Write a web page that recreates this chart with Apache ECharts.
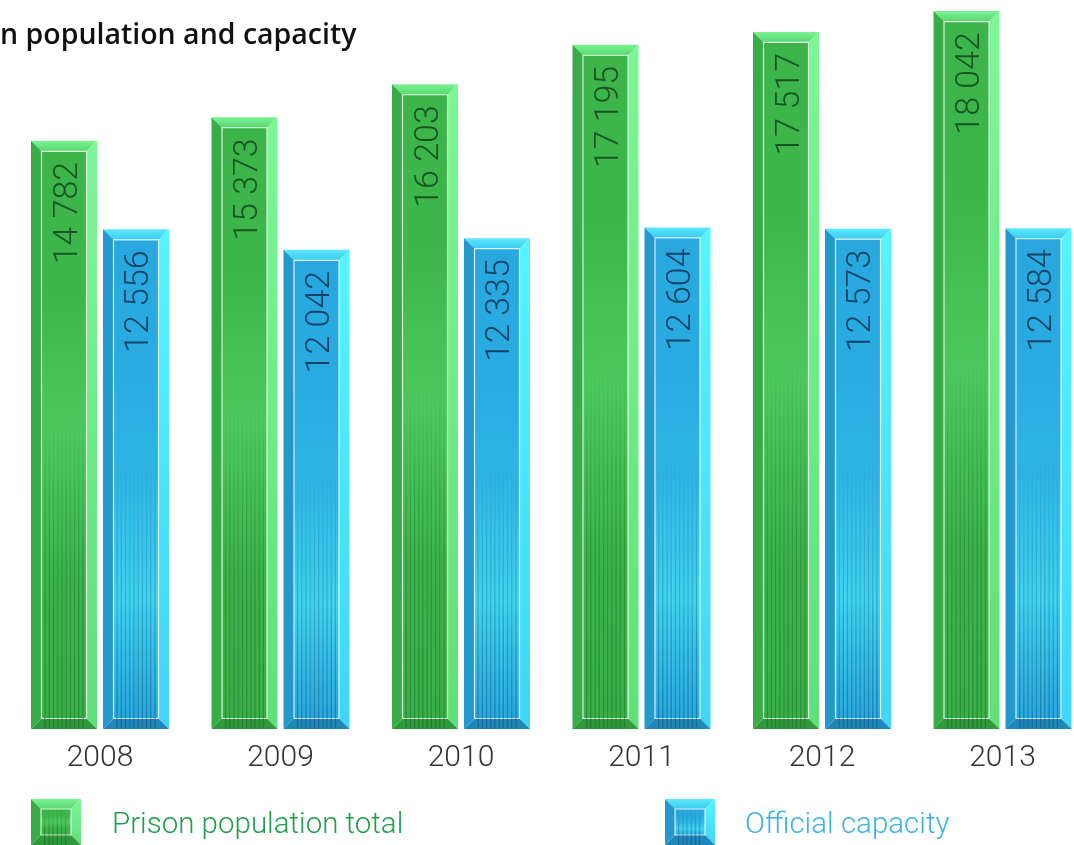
<!DOCTYPE html>
<html><head><meta charset="utf-8">
<script src="https://cdn.jsdelivr.net/npm/echarts@6/dist/echarts.min.js"></script>
<style>html,body{margin:0;padding:0;background:#fff;overflow:hidden}#c{width:1074px;height:845px}</style>
</head><body><div id="c"></div>
<script>
const titleText = 'n population and capacity';
const years = ['2008', '2009', '2010', '2011', '2012', '2013'];
const seriesNames = ['Prison population total', 'Official capacity'];
const prisonPopulation = [14782, 15373, 16203, 17195, 17517, 18042];
const officialCapacity = [12556, 12042, 12335, 12604, 12573, 12584];

function fmt(v) { return String(v).replace(/\B(?=(\d{3})+(?!\d))/g, ' '); }

const G = echarts.graphic;
function vgrad(stops) {
  return new G.LinearGradient(0, 0, 0, 1, stops.map((c, i) => ({ offset: i / (stops.length - 1), color: c })));
}

const palettes = [
  { top: ['#7af394', '#58d76e'], right: ['#7cf795', '#5ee07a'], left: '#38ad47', bottom: '#2e9a3c',
    inner: ['#3cb44a', '#3db64b', '#4cc95d', '#3cb44a', '#3ab147'], text: 'rgba(12,60,22,0.8)', stripe: 'rgba(20,90,35,0.42)', legend: '#1f9e4c' },
  { top: ['#5ae9fb', '#3ccaf0'], right: ['#55f5ff', '#3fd6f6'], left: '#2398cc', bottom: '#1f87b9',
    inner: ['#28a8df', '#29aae0', '#2eb5e5', '#3fd4f2', '#28a8df'], text: 'rgba(6,42,72,0.8)', stripe: 'rgba(10,70,110,0.42)', legend: '#3bb2e3' }
];

function bevelShapes(x, y, w, h, b, pal, stripeH) {
  const ch = [];
  ch.push({ type: 'polygon', shape: { points: [[x, y], [x + w, y], [x + w - b, y + b], [x + b, y + b]] }, style: { fill: vgrad(pal.top) } });
  ch.push({ type: 'polygon', shape: { points: [[x + w, y], [x + w, y + h], [x + w - b, y + h - b], [x + w - b, y + b]] }, style: { fill: vgrad(pal.right) } });
  ch.push({ type: 'polygon', shape: { points: [[x, y], [x + b, y + b], [x + b, y + h - b], [x, y + h]] }, style: { fill: pal.left } });
  ch.push({ type: 'polygon', shape: { points: [[x, y + h], [x + b, y + h - b], [x + w - b, y + h - b], [x + w, y + h]] }, style: { fill: pal.bottom } });
  ch.push({ type: 'rect', shape: { x: x + b, y: y + b, width: w - 2 * b, height: h - 2 * b }, style: { fill: vgrad(pal.inner), stroke: 'rgba(255,255,255,0.8)', lineWidth: 1.2 } });
  const sTop = Math.max(y + b, y + h - stripeH);
  const sh = y + h - sTop;
  if (sh > 2) {
    for (let sx = x + b + 3; sx < x + w - b - 2; sx += 4.2) {
      ch.push({ type: 'rect', silent: true, shape: { x: sx, y: sTop, width: 1.3, height: sh },
        style: { fill: new G.LinearGradient(0, 0, 0, 1, [{ offset: 0, color: 'rgba(0,0,0,0)' }, { offset: 1, color: pal.stripe }]) } });
    }
  }
  return ch;
}

function makeRender(si) {
  return function (params, api) {
    const idx = api.value(0);
    const val = api.value(1);
    const band = api.size([1, 0])[0];
    const c = api.coord([idx, val]);
    const base = api.coord([idx, 0])[1];
    const bw = band * 0.3657;
    const off = band * 0.1994 * (si === 0 ? -1 : 1);
    const cx = c[0] + off;
    const x = cx - bw / 2;
    const y = c[1];
    const h = base - y;
    const pal = palettes[si];
    const ch = bevelShapes(x, y, bw, h, 10.5, pal, Math.min(h * 0.55, 380));
    ch.push({ type: 'text', x: cx + 4, y: y + 21, rotation: Math.PI / 2,
      style: { text: fmt(val), x: 0, y: 0, align: 'right', verticalAlign: 'middle',
        fontFamily: 'Roboto', fontWeight: 300, fontSize: 34, fill: pal.text } });
    return { type: 'group', children: ch };
  };
}

const chart = echarts.init(document.getElementById('c'), null, { renderer: 'canvas' });

function legendItem(x, y, name, pal, tx) {
  return { type: 'group', children: bevelShapes(x, y, 50, 46, 10, pal, 36).concat([
    { type: 'text', x: tx, y: y + 27, style: { text: name, align: 'left', verticalAlign: 'middle',
      fontFamily: 'Roboto', fontWeight: 300, fontSize: 29.5, fill: pal.legend } }
  ]) };
}

chart.setOption({
  animation: false,
  backgroundColor: '#ffffff',
  grid: { left: 9.75, right: -18.75, top: 0, bottom: 116, outerBoundsMode: 'none', containLabel: false },
  xAxis: { type: 'category', data: years,
    axisLine: { show: false }, axisTick: { show: false }, splitLine: { show: false },
    axisLabel: { margin: 14, fontSize: 30, lineHeight: 30, fontFamily: 'Roboto', fontWeight: 300, color: '#333333' } },
  yAxis: { type: 'value', min: 0, max: 18320, show: false, splitLine: { show: false } },
  series: [
    { type: 'custom', name: seriesNames[0], renderItem: makeRender(0), encode: { x: 0, y: 1 },
      data: prisonPopulation.map((v, i) => [i, v]) },
    { type: 'custom', name: seriesNames[1], renderItem: makeRender(1), encode: { x: 0, y: 1 },
      data: officialCapacity.map((v, i) => [i, v]) }
  ],
  graphic: [
    { type: 'text', left: 0, top: 21, style: { text: titleText, fontFamily: 'Open Sans', fontWeight: 600, fontSize: 28.5, fill: '#111111' } },
    legendItem(31, 799, seriesNames[0], palettes[0], 112),
    legendItem(665, 799, seriesNames[1], palettes[1], 745)
  ]
});
</script>
</body></html>
